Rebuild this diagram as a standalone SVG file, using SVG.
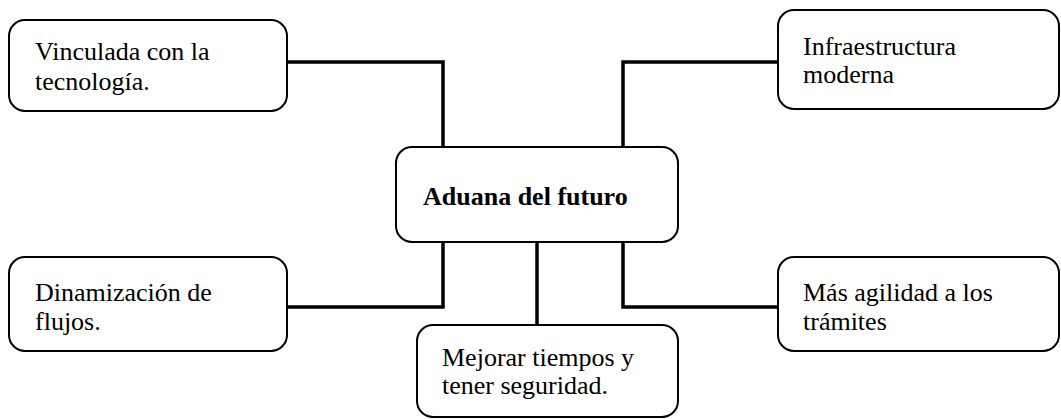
<svg xmlns="http://www.w3.org/2000/svg" width="1061" height="419" viewBox="0 0 1061 419">
<style>
.box{fill:#fff;stroke:#000;stroke-width:2}
.c{fill:none;stroke:#000;stroke-width:3.5}
</style>
<rect width="1061" height="419" fill="#fff"/>
<g id="connectors">
<polyline class="c" points="287,62 443,62 443,148"/>
<polyline class="c" points="778,62 623,62 623,148"/>
<polyline class="c" points="287,307 443,307 443,241"/>
<polyline class="c" points="778,307 623,307 623,241"/>
<line class="c" x1="537" y1="241" x2="537" y2="326"/>
</g>
<g id="n-center">
<rect class="box" x="396" y="147" width="282" height="95" rx="16"/>
<text x="423" y="205" font-family="Liberation Serif" font-weight="bold" font-size="26">Aduana del futuro</text>
</g>
<g id="n-tl">
<rect class="box" x="9" y="20" width="278" height="91" rx="16"/>
<text x="35" y="60" font-family="Liberation Serif" font-size="26">Vinculada con la</text>
<text x="35" y="90" font-family="Liberation Serif" font-size="26">tecnolog&#237;a.</text>
</g>
<g id="n-tr">
<rect class="box" x="778" y="10" width="281" height="99" rx="16"/>
<text x="803" y="55" font-family="Liberation Serif" font-size="26">Infraestructura</text>
<text x="803" y="83" font-family="Liberation Serif" font-size="26">moderna</text>
</g>
<g id="n-bl">
<rect class="box" x="9" y="257" width="278" height="94" rx="16"/>
<text x="35" y="301" font-family="Liberation Serif" font-size="26">Dinamizaci&#243;n de</text>
<text x="35" y="330" font-family="Liberation Serif" font-size="26">flujos.</text>
</g>
<g id="n-bc">
<rect class="box" x="417" y="325" width="261" height="92" rx="16"/>
<text x="442" y="366" font-family="Liberation Serif" font-size="26">Mejorar tiempos y</text>
<text x="442" y="394" font-family="Liberation Serif" font-size="26">tener seguridad.</text>
</g>
<g id="n-br">
<rect class="box" x="778" y="257" width="281" height="94" rx="16"/>
<text x="803" y="301" font-family="Liberation Serif" font-size="26">M&#225;s agilidad a los</text>
<text x="803" y="330" font-family="Liberation Serif" font-size="26">tr&#225;mites</text>
</g>
</svg>
